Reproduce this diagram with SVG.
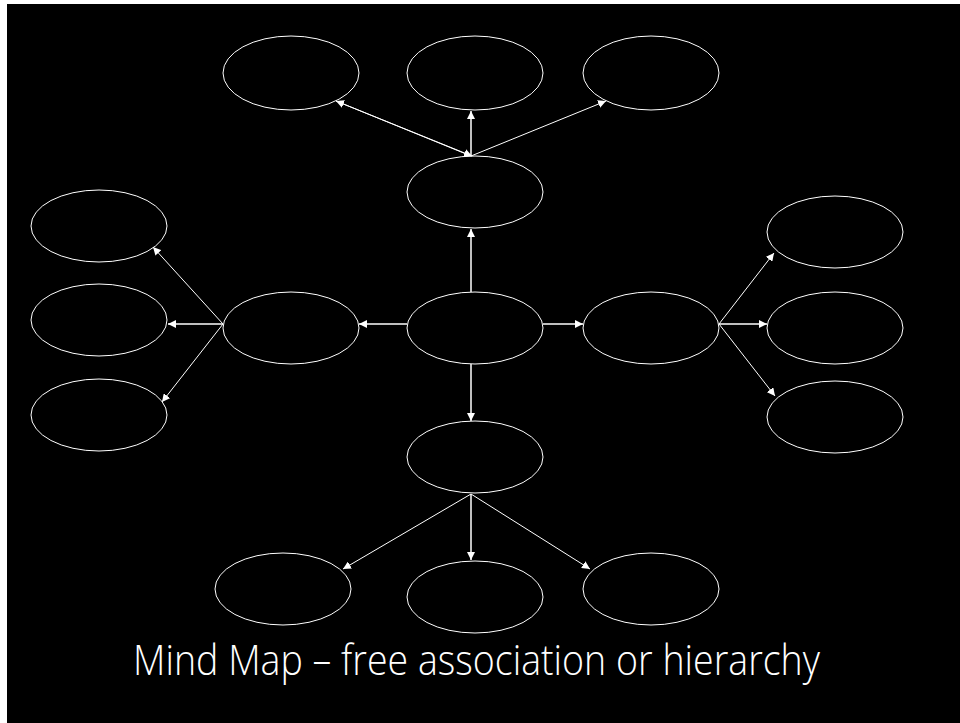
<svg xmlns="http://www.w3.org/2000/svg" width="960" height="723" viewBox="0 0 960 723">
  <defs>
    <marker id="arrow" viewBox="0 0 10 10" refX="10" refY="5" markerWidth="8" markerHeight="8" markerUnits="userSpaceOnUse" orient="auto">
      <path d="M0,0 L10,5 L0,10 Z" fill="#fff"/>
    </marker>
    <style>
      .node ellipse { fill: #000; stroke: #fff; stroke-width: 1; }
      .edge { stroke: #fff; stroke-width: 1; fill: none; marker-end: url(#arrow); }
      .edge.straight { stroke-width: 1.5; }
      .title { font-family: "Open Sans", "Liberation Sans", sans-serif; font-weight: 300; font-size: 42px; fill: #fff; }
    </style>
  </defs>

  <!-- page frame -->
  <rect x="0" y="0" width="960" height="723" fill="#fff"/>
  <rect x="7" y="4" width="953" height="719" fill="#000"/>

  <!-- central column -->
  <g id="n-center" class="node"><ellipse cx="475" cy="328" rx="68" ry="36"/></g>
  <g id="n-upper" class="node"><ellipse cx="475" cy="192" rx="68" ry="36"/></g>
  <g id="n-lower" class="node"><ellipse cx="475" cy="457" rx="68" ry="36"/></g>
  <g id="n-left" class="node"><ellipse cx="291" cy="328" rx="68" ry="36"/></g>
  <g id="n-right" class="node"><ellipse cx="651" cy="328" rx="68" ry="36"/></g>

  <!-- top row -->
  <g id="n-top-left" class="node"><ellipse cx="291" cy="73" rx="68" ry="37"/></g>
  <g id="n-top-mid" class="node"><ellipse cx="475" cy="73" rx="68" ry="37"/></g>
  <g id="n-top-right" class="node"><ellipse cx="651" cy="73" rx="68" ry="37"/></g>

  <!-- left column -->
  <g id="n-left-top" class="node"><ellipse cx="99" cy="226" rx="68" ry="36"/></g>
  <g id="n-left-mid" class="node"><ellipse cx="99" cy="320" rx="68" ry="36"/></g>
  <g id="n-left-bot" class="node"><ellipse cx="99" cy="415" rx="68" ry="36"/></g>

  <!-- right column -->
  <g id="n-right-top" class="node"><ellipse cx="835" cy="232" rx="68" ry="36"/></g>
  <g id="n-right-mid" class="node"><ellipse cx="835" cy="328" rx="68" ry="36"/></g>
  <g id="n-right-bot" class="node"><ellipse cx="835" cy="417" rx="68" ry="36"/></g>

  <!-- bottom row -->
  <g id="n-bot-left" class="node"><ellipse cx="283" cy="589" rx="68" ry="36"/></g>
  <g id="n-bot-mid" class="node"><ellipse cx="475" cy="597" rx="68" ry="36"/></g>
  <g id="n-bot-right" class="node"><ellipse cx="651" cy="589" rx="68" ry="36"/></g>

  <g id="connectors">
    <!-- from the centre -->
    <line class="edge straight" x1="471" y1="292" x2="471" y2="229"/>
    <line class="edge straight" x1="471" y1="364" x2="471" y2="421"/>
    <line class="edge straight" x1="407" y1="324" x2="359" y2="324"/>
    <line class="edge straight" x1="543" y1="324" x2="583" y2="324"/>

    <!-- upper hub -->
    <line class="edge" x1="471" y1="156" x2="336" y2="101"/>
    <line class="edge" x1="336" y1="101" x2="472" y2="156"/>
    <line class="edge straight" x1="471" y1="156" x2="471" y2="111"/>
    <line class="edge" x1="471" y1="156" x2="606" y2="101"/>

    <!-- left hub -->
    <line class="edge" x1="223" y1="324" x2="153" y2="247"/>
    <line class="edge straight" x1="223" y1="324" x2="168" y2="324"/>
    <line class="edge" x1="223" y1="324" x2="162" y2="402"/>

    <!-- right hub -->
    <line class="edge" x1="719" y1="324" x2="774" y2="253"/>
    <line class="edge straight" x1="719" y1="324" x2="767" y2="324"/>
    <line class="edge" x1="719" y1="324" x2="775" y2="396"/>

    <!-- lower hub -->
    <line class="edge" x1="471" y1="494" x2="343" y2="569"/>
    <line class="edge straight" x1="471" y1="494" x2="471" y2="560"/>
    <line class="edge" x1="471" y1="494" x2="590" y2="569"/>
  </g>

  <text class="title" x="133" y="675" textLength="687" lengthAdjust="spacingAndGlyphs">Mind Map – free association or hierarchy</text>
</svg>
